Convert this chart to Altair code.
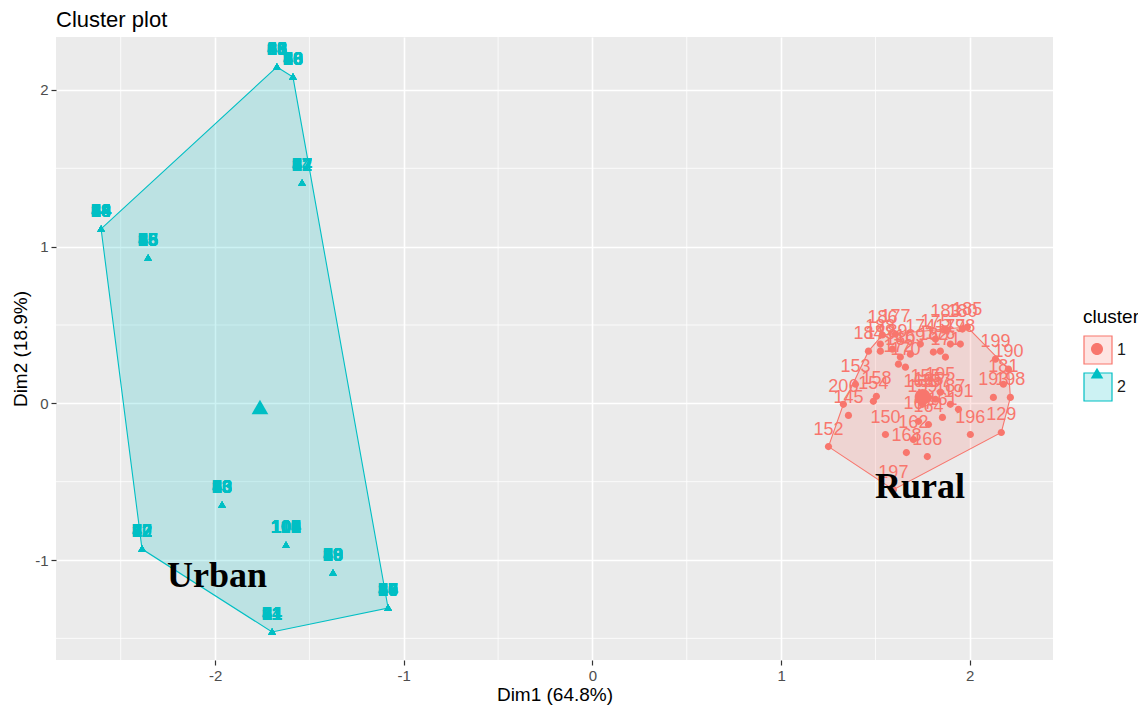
import altair as alt
import pandas as pd

# ---------------- data ----------------
# Cluster 1 (rural) observations
rural_labels = ["152", "145", "206", "153", "158", "184", "186", "177", "188", "189",
                "160", "169", "174", "175", "183", "180", "185", "179", "176", "182",
                "171", "172", "170", "155", "195", "157", "165", "163", "159", "150",
                "168", "166", "167", "164", "161", "196", "193", "129", "198", "190",
                "199", "197", "154", "162", "173", "178", "181", "187", "191"]
rural_x = [1.251, 1.357, 1.330, 1.394, 1.505, 1.463, 1.537, 1.606, 1.526, 1.590,
           1.632, 1.685, 1.738, 1.818, 1.871, 1.961, 1.987, 1.897, 1.844, 1.807,
           1.871, 1.622, 1.659, 1.765, 1.844, 1.818, 1.781, 1.728, 1.749, 1.553,
           1.664, 1.775, 1.728, 1.781, 1.855, 2.003, 2.125, 2.167, 2.215, 2.205,
           2.136, 1.595, 1.489, 1.701, 1.526, 1.950, 2.178, 1.897, 1.940]
rural_y = [-0.276, -0.077, -0.006, 0.122, 0.045, 0.333, 0.436, 0.442, 0.378, 0.346,
           0.295, 0.314, 0.378, 0.410, 0.474, 0.474, 0.487, 0.378, 0.333, 0.327,
           0.295, 0.250, 0.231, 0.058, 0.071, 0.026, 0.038, 0.026, -0.006, -0.199,
           -0.314, -0.340, -0.115, -0.135, -0.090, -0.199, 0.038, -0.186, 0.038, 0.218,
           0.282, -0.551, 0.013, -0.231, 0.333, 0.378, 0.122, -0.006, -0.038]

# Cluster 2 (urban): many coincident observations per location
urban_x = [-1.672, -1.587, -1.539, -2.604, -2.355, -1.963, -1.624, -1.375, -2.387, -1.698, -1.083]
urban_y = [2.147, 2.082, 1.406, 1.113, 0.927, -0.649, -0.905, -1.083, -0.930, -1.459, -1.306]
urban_labels = [
    ["16", "28", "35", "43", "58", "61", "69", "86", "98"],
    ["10", "26", "30", "48", "50", "63", "76", "80", "96"],
    ["17", "27", "34", "47", "52", "67", "77", "82", "97"],
    ["14", "24", "38", "44", "54", "68", "74", "89", "94"],
    ["15", "25", "36", "45", "55", "65", "78", "85", "95"],
    ["13", "23", "33", "40", "53", "60", "73", "83", "93"],
    ["100", "101", "102", "103", "104", "105", "106", "107", "108", "109", "110"],
    ["18", "29", "39", "49", "59", "66", "79", "88", "99"],
    ["12", "22", "32", "42", "62", "70", "72", "87", "92"],
    ["11", "21", "31", "41", "51", "64", "71", "81", "91"],
    ["19", "20", "37", "46", "56", "57", "75", "84", "90"],
]

# cluster centres
centre_cluster = ["1", "2"]
centre_x = [1.750, -1.762]
centre_y = [0.040, -0.030]

# annotations
annot_text = ["Urban", "Rural"]
annot_x = [-1.989, 1.736]
annot_y = [-1.172, -0.604]

# axes
x_ticks = [-2, -1, 0, 1, 2]
y_ticks = [-1, 0, 1, 2]
x_minor = [-2.5, -1.5, -0.5, 0.5, 1.5]
y_minor = [-1.5, -0.5, 0.5, 1.5]
x_domain = [-2.843, 2.441]
y_domain = [-1.638, 2.338]

cluster_names = ["1", "2"]
cluster_colors = ["#F8766D", "#00BFC4"]
cluster_fills = ["rgba(248,118,109,0.2)", "rgba(0,191,196,0.2)"]

# ---------------- tables ----------------
rows = []
for lab, x, y in zip(rural_labels, rural_x, rural_y):
    rows.append({"x": x, "y": y, "label": lab, "cluster": "1", "tcol": cluster_colors[0]})
urban_rows = []
for labs, x, y in zip(urban_labels, urban_x, urban_y):
    for lab in labs:
        urban_rows.append({"x": x, "y": y, "label": lab, "cluster": "2", "tcol": cluster_colors[1]})
pts_df = pd.DataFrame(rows + urban_rows)
rural_df = pd.DataFrame(rows)
urban_df = pd.DataFrame(urban_rows)


def convex_hull(points):
    pts = sorted(set(points))
    if len(pts) <= 2:
        return pts

    def cross(o, a, b):
        return (a[0] - o[0]) * (b[1] - o[1]) - (a[1] - o[1]) * (b[0] - o[0])
    lower, upper = [], []
    for p in pts:
        while len(lower) >= 2 and cross(lower[-2], lower[-1], p) <= 0:
            lower.pop()
        lower.append(p)
    for p in reversed(pts):
        while len(upper) >= 2 and cross(upper[-2], upper[-1], p) <= 0:
            upper.pop()
        upper.append(p)
    return lower[:-1] + upper[:-1]


hull_rows = []
for cl, xs_, ys_ in [("1", rural_x, rural_y), ("2", urban_x, urban_y)]:
    h = convex_hull(list(zip(xs_, ys_)))
    h = h + [h[0]]
    for i, (x, y) in enumerate(h):
        hull_rows.append({"x": x, "y": y, "cluster": cl, "order": i})
hull_df = pd.DataFrame(hull_rows)

centre_df = pd.DataFrame({"x": centre_x, "y": centre_y, "cluster": centre_cluster})
annot_df = pd.DataFrame({"x": annot_x, "y": annot_y, "text": annot_text})
xminor_df = pd.DataFrame({"v": x_minor})
yminor_df = pd.DataFrame({"v": y_minor})

# ---------------- encodings ----------------
FONT = "Liberation Sans"
minus_expr = "datum.value < 0 ? '-' + abs(datum.value) : '' + datum.value"
xs = alt.Scale(domain=x_domain, nice=False, zero=False)
ys = alt.Scale(domain=y_domain, nice=False, zero=False)
xaxis = alt.Axis(values=x_ticks, title="Dim1 (64.8%)", grid=True, gridColor="white", gridWidth=1.6,
                 domain=False, tickColor="#333333", tickSize=5, tickWidth=1.2, labelFontSize=15,
                 labelColor="#4D4D4D", labelPadding=3, labelFont=FONT, titleFont=FONT, titleFontSize=19,
                 titleFontWeight="normal", titleColor="#000000", titlePadding=2, labelExpr=minus_expr)
yaxis = alt.Axis(values=y_ticks, title="Dim2 (18.9%)", grid=True, gridColor="white", gridWidth=1.6,
                 domain=False, tickColor="#333333", tickSize=5, tickWidth=1.2, labelFontSize=15,
                 labelColor="#4D4D4D", labelPadding=3, labelFont=FONT, titleFont=FONT, titleFontSize=19,
                 titleFontWeight="normal", titleColor="#000000", titlePadding=4, labelExpr=minus_expr)


def X(f):
    return alt.X(f, type="quantitative", scale=xs, axis=xaxis)


def Y(f):
    return alt.Y(f, type="quantitative", scale=ys, axis=yaxis)


LEG_X, LEG_Y = 1027, 271
common_leg = dict(orient="none", legendX=LEG_X, legendY=LEG_Y, title="cluster", titleFontSize=19,
                  titleFont=FONT, titleFontWeight="normal", titlePadding=8, labelFontSize=16,
                  labelFont=FONT, labelOffset=4, symbolSize=784, rowPadding=3, padding=0)
leg_box = alt.Legend(symbolType="square", symbolStrokeWidth=1.2, titleColor="#000000",
                     labelColor="#1A1A1A", **common_leg)
leg_shape = alt.Legend(symbolStrokeWidth=0, titleColor="transparent", labelColor="transparent",
                       **common_leg)

circle_path = "M-0.43,0A0.43,0.43,0,1,0,0.43,0A0.43,0.43,0,1,0,-0.43,0Z"
tri_path = "M0,-0.45L0.45,0.33L-0.45,0.33Z"

color_enc = alt.Color("cluster:N", scale=alt.Scale(domain=cluster_names, range=cluster_colors),
                      legend=leg_shape)
shape_enc = alt.Shape("cluster:N", scale=alt.Scale(domain=cluster_names, range=[circle_path, tri_path]),
                      legend=leg_shape)

# ---------------- layers ----------------
minor_v = alt.Chart(xminor_df).mark_rule(color="white", strokeWidth=0.8).encode(x=X("v"))
minor_h = alt.Chart(yminor_df).mark_rule(color="white", strokeWidth=0.8).encode(y=Y("v"))

hull = alt.Chart(hull_df).mark_line(strokeWidth=1.1, interpolate="linear").encode(
    x=X("x"), y=Y("y"), order=alt.Order("order:Q"),
    stroke=alt.Stroke("cluster:N", scale=alt.Scale(range=cluster_colors), legend=leg_box),
    fill=alt.Fill("cluster:N", scale=alt.Scale(range=cluster_fills), legend=leg_box),
)

points = alt.Chart(pts_df).mark_point(filled=True, size=280, opacity=1, strokeWidth=0).encode(
    x=X("x"), y=Y("y"), color=color_enc, shape=shape_enc)

centres = alt.Chart(centre_df).mark_point(filled=True, size=1380, opacity=1, strokeWidth=0).encode(
    x=X("x"), y=Y("y"), color=color_enc, shape=shape_enc)

rural_text = alt.Chart(rural_df).mark_text(fontSize=18, dy=-17, font=FONT, baseline="middle").encode(
    x=X("x"), y=Y("y"), text="label:N", color=alt.Color("tcol:N", scale=None))

urban_text = alt.Chart(urban_df).mark_text(fontSize=18, dy=-17, font=FONT, fontWeight="bold",
                                           baseline="middle").encode(
    x=X("x"), y=Y("y"), text="label:N", color=alt.Color("tcol:N", scale=None))

annots = alt.Chart(annot_df).mark_text(font="Liberation Serif", fontWeight="bold", fontSize=36,
                                       color="black", baseline="alphabetic").encode(
    x=X("x"), y=Y("y"), text="text:N")

chart = alt.layer(minor_v, minor_h, hull, points, rural_text, urban_text, centres, annots).properties(
    width=997, height=623,
    autosize=alt.AutoSizeParams(type="none"),
    padding={"left": 48, "top": 29, "right": 85, "bottom": 46},
    title=alt.TitleParams("Cluster plot", anchor="start", frame="group", fontSize=22, font=FONT,
                          fontWeight="normal", color="#000000", offset=5),
).configure_view(fill="#EBEBEB", stroke=None)

chart.save("out.html", embed_options={"renderer": "svg", "actions": False})
